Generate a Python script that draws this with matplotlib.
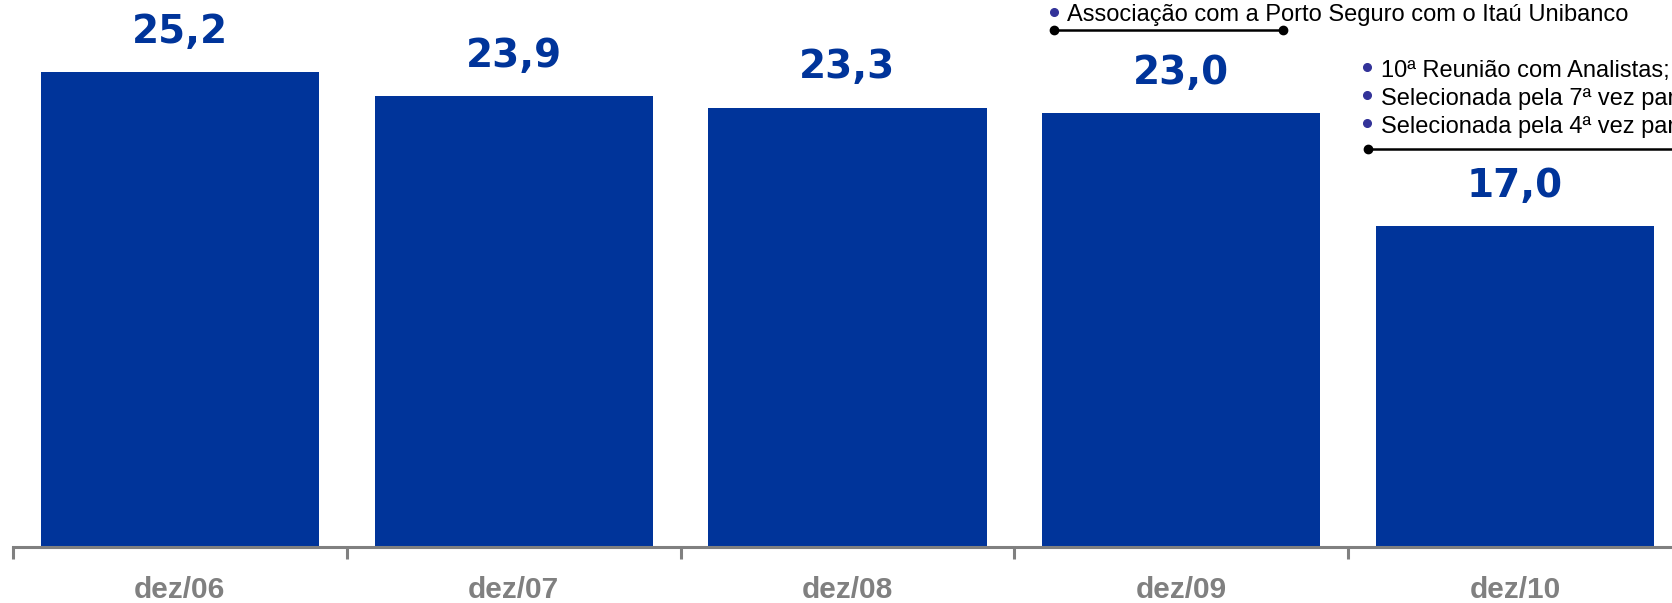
import matplotlib
matplotlib.use("Agg")
import matplotlib.pyplot as plt
from matplotlib.lines import Line2D

categories = ["dez/06", "dez/07", "dez/08", "dez/09", "dez/10"]
values = [25.2, 23.9, 23.3, 23.0, 17.0]
value_labels = ["25,2", "23,9", "23,3", "23,0", "17,0"]

note_2009 = ["Associação com a Porto Seguro com o Itaú Unibanco"]
note_2010 = ["10ª Reunião com Analistas;",
             "Selecionada pela 7ª vez para compor o ISE",
             "Selecionada pela 4ª vez para compor o DJSI"]

W, H = 1672, 603
bar_color = "#00349a"
grey = "#808080"
bullet_color = "#333399"

plt.rcParams["font.family"] = ["Liberation Sans", "DejaVu Sans"]

fig = plt.figure(figsize=(W / 100, H / 100), dpi=100)
ax = fig.add_axes([13 / W, 1 - 547 / H, 1669 / W, 547 / H])

x = list(range(len(categories)))
bars = ax.bar(x, values, width=0.833, color=bar_color, zorder=2)
for rect, lab in zip(bars, value_labels):
    ax.annotate(lab, (rect.get_x() + rect.get_width() / 2, rect.get_height()),
                xytext=(0, 21), textcoords="offset points", ha="center", va="baseline",
                fontsize=28, fontweight="bold", color=bar_color, family="DejaVu Sans")

ax.set_xlim(-0.5, 4.5)
ax.set_ylim(0, 29.0)
for s in ["top", "right", "left"]:
    ax.spines[s].set_visible(False)
ax.spines["bottom"].set_color(grey)
ax.spines["bottom"].set_linewidth(2.2)
ax.set_yticks([])
ax.set_xticks(x)
ax.set_xticklabels(categories, fontsize=21.5, fontweight="bold", color=grey)
ax.tick_params(axis="x", which="major", length=0, pad=21)
ax.set_xticks([i - 0.5 for i in x], minor=True)
ax.tick_params(axis="x", which="minor", length=8.5, width=2.2, color=grey, direction="out")


def fx(px):
    return px / W


def fy(py):
    return 1 - py / H


def note_block(lines, bullet_x, text_x, baselines, bullet_dy, line_y, line_x0, line_x1):
    for txt, yy in zip(lines, baselines):
        fig.add_artist(Line2D([fx(bullet_x)], [fy(yy - bullet_dy)], transform=fig.transFigure,
                              marker="o", markersize=5.5, color=bullet_color, lw=0))
        fig.text(fx(text_x), fy(yy), txt, fontsize=17, color="black",
                 ha="left", va="baseline")
    fig.add_artist(Line2D([fx(line_x0), fx(line_x1)], [fy(line_y), fy(line_y)],
                          transform=fig.transFigure, color="black", lw=1.8,
                          marker="o", markersize=6, markevery=[0, 1]))


note_block(note_2009, 1054, 1067, [21], 9, 30, 1054, 1283)
note_block(note_2010, 1367, 1381, [77, 105, 133], 10, 149, 1368, 1700)

fig.savefig("out.png", dpi=100)
